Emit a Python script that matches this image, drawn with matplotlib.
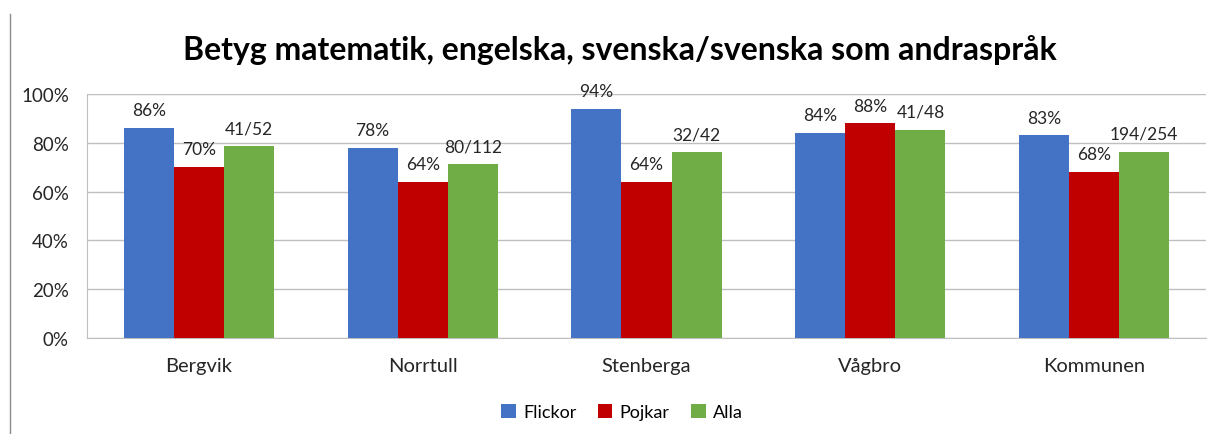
import matplotlib
matplotlib.use("Agg")
import matplotlib.pyplot as plt
from matplotlib.lines import Line2D
from matplotlib.ticker import PercentFormatter
import numpy as np

plt.rcParams['font.family'] = ['Lato', 'DejaVu Sans']

categories = ["Bergvik", "Norrtull", "Stenberga", "Vågbro", "Kommunen"]
flickor = [86, 78, 94, 84, 83]
pojkar = [70, 64, 64, 88, 68]
alla = [78.8, 71.4, 76.2, 85.4, 76.4]
flickor_labels = ["86%", "78%", "94%", "84%", "83%"]
pojkar_labels = ["70%", "64%", "64%", "88%", "68%"]
alla_labels = ["41/52", "80/112", "32/42", "41/48", "194/254"]
series_names = ["Flickor", "Pojkar", "Alla"]
colors = ["#4472C4", "#C00000", "#70AD47"]

W, H = 1213, 435
fig = plt.figure(figsize=(W/100, H/100), dpi=100)
ax = fig.add_axes([87/W, 1-339/H, (1206-87)/W, (339-95)/H])

x = np.arange(len(categories))
bw = 0.224
series = [flickor, pojkar, alla]
labels = [flickor_labels, pojkar_labels, alla_labels]
for i, (vals, labs, name, c) in enumerate(zip(series, labels, series_names, colors)):
    xs = x + (i - 1) * bw
    bars = ax.bar(xs, vals, width=bw, color=c, label=name, zorder=3)
    for b, lab in zip(bars, labs):
        ax.annotate(lab, (b.get_x() + b.get_width()/2, b.get_height()),
                    xytext=(0, 7), textcoords="offset points",
                    ha="center", va="bottom", fontsize=12.5, color="#262626")

ax.set_xlim(-0.5, len(categories) - 0.5)
ax.set_ylim(0, 100)
ax.set_yticks(range(0, 101, 20))
ax.yaxis.set_major_formatter(PercentFormatter(decimals=0))
ax.set_xticks(x)
ax.set_xticklabels(categories)
ax.tick_params(axis="both", length=0, colors="#262626")
ax.tick_params(axis="x", pad=14, labelsize=14.5)
ax.tick_params(axis="y", pad=13, labelsize=13.5)
ax.grid(axis="y", color="#BFBFBF", linewidth=1, zorder=0)
for s in ["top", "right"]:
    ax.spines[s].set_visible(False)
ax.spines["left"].set_color("#BFBFBF")
ax.spines["bottom"].set_color("#BFBFBF")

fig.text(620/W, 1-50/H, "Betyg matematik, engelska, svenska/svenska som andraspråk",
         ha="center", va="center", fontsize=23, fontweight="bold", color="black")

fig.legend(loc="center", bbox_to_anchor=(622/W, 1-413/H), ncol=3, frameon=False,
           fontsize=13, handlelength=0.8, handleheight=0.8, handletextpad=0.4,
           columnspacing=1.2)

fig.add_artist(Line2D([10/W, 10/W], [0, 1-15/H], transform=fig.transFigure,
                      color="#8C8C8C", linewidth=1))

fig.savefig("out.png", dpi=100)
